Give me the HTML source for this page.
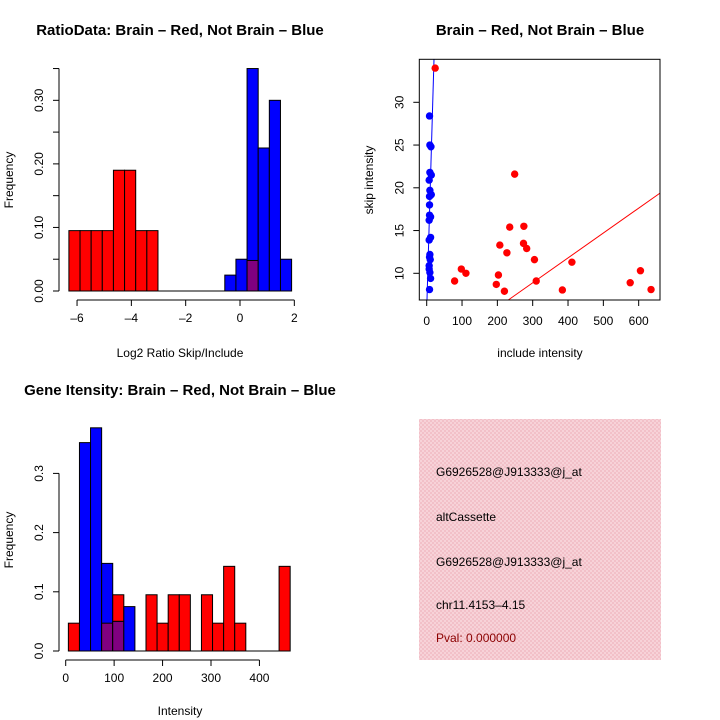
<!DOCTYPE html>
<html><head><meta charset="utf-8"><style>
html,body{margin:0;background:#fff;width:720px;height:720px;overflow:hidden}
svg{display:block;font-family:"Liberation Sans",sans-serif}
</style></head><body>
<svg id="c" width="720" height="720" xmlns="http://www.w3.org/2000/svg">
<rect width="720" height="720" fill="#fff"/>
<defs><pattern id="hatch" width="4" height="4" patternUnits="userSpaceOnUse"><rect width="4" height="4" fill="#f2c0c8"/><rect width="2" height="2" fill="#f7d2d8"/><rect x="2" y="2" width="2" height="2" fill="#f7d2d8"/></pattern></defs>
<g id="p1"></g>
<g id="p2"></g>
<g id="p3"></g>
<g id="p4">
<rect x="419" y="419" width="242" height="241" fill="url(#hatch)"/>
<text x="436" y="476" font-size="12">G6926528@J913333@j_at</text>
<text x="436" y="521" font-size="12">altCassette</text>
<text x="436" y="566" font-size="12">G6926528@J913333@j_at</text>
<text x="436" y="609" font-size="12">chr11.4153–4.15</text>
<text x="436" y="642" font-size="12" fill="#8b0000">Pval: 0.000000</text>
</g>
</svg>
<script>
// Panel 1: ratio histogram
const ratioBinStart = -6.3, ratioBinWidth = 0.41;
const ratioRed  = [0.095,0.095,0.095,0.095,0.19,0.19,0.095,0.095,0,0,0,0,0,0,0,0,0.048,0,0,0];
const ratioBlue = [0,0,0,0,0,0,0,0,0,0,0,0,0,0,0.025,0.05,0.35,0.225,0.30,0.05];
const ratioXTicks = [-6,-4,-2,0,2];
const ratioYTicks = [0,0.05,0.10,0.15,0.20,0.25,0.30,0.35];
const ratioYLabels = ["0.00","","0.10","","0.20","","0.30",""];
// Panel 2: scatter
const redX = [24,249,235,275,207,227,274,283,305,411,98,111,79,203,197,220,310,384,576,605,635];
const redY = [34.0,21.6,15.4,15.5,13.3,12.4,13.5,12.9,11.6,11.3,10.5,10.0,9.1,9.8,8.7,7.9,9.1,8.05,8.9,10.3,8.1];
const blueX = [8,9,12,9,13,7,9,13,8,8,8,11,7,11,7,9,8,10,7,7,9,11,8];
const blueY = [28.4,25.0,24.8,21.8,21.5,20.9,19.7,19.2,19.0,18.0,16.8,16.6,16.2,14.2,13.9,12.2,11.9,11.6,10.9,10.5,10.1,9.4,8.1];
const redFit = [0.16,0.0291];
const blueFit = [5.74,1.42];
const scXTicks = [0,100,200,300,400,500,600];
const scYTicks = [10,15,20,25,30];
// Panel 3: gene intensity histogram
const geneBinStart = 5.5, geneBinWidth = 22.9;
const geneRed  = [0.047,0,0,0.047,0.095,0,0,0.095,0.047,0.095,0.095,0,0.095,0.047,0.143,0.047,0,0,0,0.143];
const geneBlue = [0,0.352,0.377,0.148,0.05,0.075,0,0,0,0,0,0,0,0,0,0,0,0,0,0];
const geneXTicks = [0,100,200,300,400];
const geneYTicks = [0,0.1,0.2,0.3];

const NS="http://www.w3.org/2000/svg";
function mk(parent,tag,attrs,txt){const e=document.createElementNS(NS,tag);for(const k in attrs)e.setAttribute(k,attrs[k]);if(txt!==undefined)e.textContent=txt;parent.appendChild(e);return e;}

function hist(g,opt){
  const X=v=>opt.x0+(v-opt.d0)*opt.sx, Y=v=>opt.y0-v*opt.sy;
  const n=opt.red.length;
  mk(g,'line',{x1:X(opt.bs),x2:X(opt.bs+n*opt.bw),y1:Y(0),y2:Y(0),stroke:'#000'});
  for(let i=0;i<n;i++){
    const a=X(opt.bs+i*opt.bw), w=opt.bw*opt.sx, r=opt.red[i], b=opt.blue[i];
    if(r>0){const e=mk(g,'rect',{x:a,y:Y(r),width:w,height:r*opt.sy,fill:'#f00',stroke:'#000'});
      
      }
    if(b>0){const e=mk(g,'rect',{x:a,y:Y(b),width:w,height:b*opt.sy,fill:'#00f',stroke:'#000'});
      
      }
    const m=Math.min(r,b);
    if(m>0){const e=mk(g,'rect',{x:a,y:Y(m),width:w,height:m*opt.sy,fill:'#800080',stroke:'#000'});
      
      }
  }
  const xa=mk(g,'g',{});
  
  
  const xt=opt.xt; const ay=opt.axY;
  mk(xa,'line',{x1:X(xt[0]),x2:X(xt[xt.length-1]),y1:ay,y2:ay,stroke:'#000'});
  xt.forEach(t=>{mk(xa,'line',{x1:X(t),x2:X(t),y1:ay,y2:ay+6,stroke:'#000'});
    mk(xa,'text',{x:X(t),y:ay+22,'font-size':12,'text-anchor':'middle'},String(t).replace('-','–'));});
  const ya=mk(g,'g',{});
  
  
  const yt=opt.yt;
  mk(ya,'line',{x1:opt.axX,x2:opt.axX,y1:Y(yt[0]),y2:Y(yt[yt.length-1]),stroke:'#000'});
  yt.forEach((t,i)=>{mk(ya,'line',{x1:opt.axX-6,x2:opt.axX,y1:Y(t),y2:Y(t),stroke:'#000'});
    const l=opt.yl[i]; if(l){const yy=Y(t); mk(ya,'text',{x:opt.axX-16,y:yy,'font-size':12,'text-anchor':'middle',transform:`rotate(-90 ${opt.axX-16} ${yy})`},l);}});
}

const p1=document.getElementById('p1');
hist(p1,{x0:240,d0:0,sx:27.16,y0:291,sy:635.6,bs:ratioBinStart,bw:ratioBinWidth,red:ratioRed,blue:ratioBlue,xt:ratioXTicks,yt:ratioYTicks,yl:ratioYLabels,axY:300,axX:59});
let t=mk(p1,'text',{x:180,y:35,'font-size':15,'font-weight':'bold','text-anchor':'middle'},'RatioData: Brain – Red, Not Brain – Blue');

t=mk(p1,'text',{x:180,y:357,'font-size':12,'text-anchor':'middle'},'Log2 Ratio Skip/Include');

t=mk(p1,'text',{x:13,y:180,'font-size':12,'text-anchor':'middle',transform:'rotate(-90 13 180)'},'Frequency');


const p3=document.getElementById('p3');
hist(p3,{x0:65.7,d0:0,sx:0.4843,y0:651,sy:592,bs:geneBinStart,bw:geneBinWidth,red:geneRed,blue:geneBlue,xt:geneXTicks,yt:geneYTicks,yl:["0.0","0.1","0.2","0.3"],axY:660,axX:59});
t=mk(p3,'text',{x:180,y:395,'font-size':15,'font-weight':'bold','text-anchor':'middle'},'Gene Itensity: Brain – Red, Not Brain – Blue');

t=mk(p3,'text',{x:180,y:715,'font-size':12,'text-anchor':'middle'},'Intensity');

t=mk(p3,'text',{x:13,y:540,'font-size':12,'text-anchor':'middle',transform:'rotate(-90 13 540)'},'Frequency');


const p2=document.getElementById('p2');
const L=419.3,R=660,T=59.3,B=300;
const SX=v=>426.7+v*0.3533, SY=v=>273.3-(v-10)*8.55;
const yFromPx=p=>10+(273.3-p)/8.55, xFromPx=p=>(p-426.7)/0.3533;
function fitSegment(f){
  // clip line y=a+bx to plot box in data coords
  const xmin=xFromPx(L), xmax=xFromPx(R), ymin=yFromPx(B), ymax=yFromPx(T);
  let x1=Math.max(xmin,(ymin-f[0])/f[1]), x2=Math.min(xmax,(ymax-f[0])/f[1]);
  return [x1,x2];
}
[[redFit,'#f00','red-fit-line'],[blueFit,'#00f','blue-fit-line']].forEach(([f,c,n])=>{
  const [d0,d1]=fitSegment(f);
  const e=mk(p2,'line',{x1:SX(d0),y1:SY(f[0]+f[1]*d0),x2:SX(d1),y2:SY(f[0]+f[1]*d1),stroke:c});
  
  
});
redX.forEach((x,i)=>{const e=mk(p2,'circle',{cx:SX(x),cy:SY(redY[i]),r:3.7,fill:'#f00'});
  
  });
blueX.forEach((x,i)=>{const e=mk(p2,'circle',{cx:SX(x),cy:SY(blueY[i]),r:3.7,fill:'#00f'});
  
  });
let e=mk(p2,'rect',{x:L,y:T,width:R-L,height:B-T,fill:'none',stroke:'#000'});

const sxa=mk(p2,'g',{});


mk(sxa,'line',{x1:SX(scXTicks[0]),x2:SX(scXTicks[scXTicks.length-1]),y1:B,y2:B,stroke:'#000'});
scXTicks.forEach(v=>{mk(sxa,'line',{x1:SX(v),x2:SX(v),y1:B,y2:B+6,stroke:'#000'});
  mk(sxa,'text',{x:SX(v),y:B+25,'font-size':12,'text-anchor':'middle'},String(v));});
const sya=mk(p2,'g',{});


scYTicks.forEach(v=>{mk(sya,'line',{x1:L-6,x2:L,y1:SY(v),y2:SY(v),stroke:'#000'});
  const yy=SY(v); mk(sya,'text',{x:L-16,y:yy,'font-size':12,'text-anchor':'middle',transform:`rotate(-90 ${L-16} ${yy})`},String(v));});
t=mk(p2,'text',{x:540,y:35,'font-size':15,'font-weight':'bold','text-anchor':'middle'},'Brain – Red, Not Brain – Blue');

t=mk(p2,'text',{x:540,y:357,'font-size':12,'text-anchor':'middle'},'include intensity');

t=mk(p2,'text',{x:373,y:180,'font-size':12,'text-anchor':'middle',transform:'rotate(-90 373 180)'},'skip intensity');

</script>
</body></html>
